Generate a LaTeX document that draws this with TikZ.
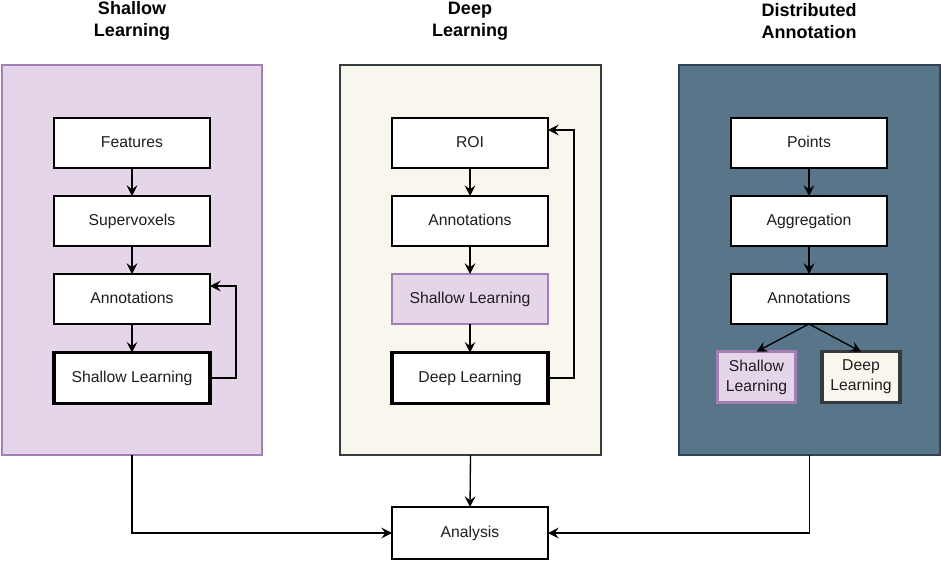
\documentclass[tikz,border=0pt]{standalone}
\usepackage{fontspec}
\setmainfont{Liberation Sans}
\usetikzlibrary{arrows.meta}
\definecolor{purfill}{HTML}{E5D5E8}
\definecolor{purline}{HTML}{A47FB5}
\definecolor{cremefill}{HTML}{F9F6EE}
\definecolor{greyline}{HTML}{36393D}
\definecolor{bluefill}{HTML}{58758A}
\definecolor{blueline}{HTML}{2F4354}
\definecolor{txt}{HTML}{1E1E1E}
\tikzset{
  panel/.style={draw, line width=1pt, minimum width=#1*0.75pt, minimum height=292.5pt, inner sep=0pt, outer sep=0pt},
  box/.style={draw=black, fill=white, line width=1pt, minimum width=117pt, minimum height=37.5pt, inner sep=0pt, outer sep=0pt, text=txt, text height=8.6pt, text depth=2.4pt, font=\fontsize{11.8pt}{14pt}\selectfont},
  thickbox/.style={box, line width=2.4pt, minimum height=38pt},
  smallbox/.style={draw, line width=2pt, minimum width=58.5pt, minimum height=38pt, inner sep=0pt, outer sep=0pt, align=center, text=txt, font=\fontsize{11.8pt}{15pt}\selectfont},
  title/.style={align=center, font=\bfseries\fontsize{13.5pt}{16.5pt}\selectfont, text=black},
  arr/.style={draw=black, line width=1pt, -{Stealth[length=8pt,width=8pt,inset=3pt]}},
}
\begin{document}
\begin{tikzpicture}[x=0.75pt,y=-0.75pt]
\useasboundingbox (0,0) rectangle (941,563);
\fill[white] (0,0) rectangle (941,563);
% titles
\node[title] (T1) at (132,21) {Shallow\\Learning};
\node[title] (T2) at (470,21) {Deep\\Learning};
\node[title] (T3) at (809,21) {Distributed\\Annotation};
% panels
\node[panel=260, fill=purfill, draw=purline] (P1) at (132,260) {};
\node[panel=261, fill=cremefill, draw=greyline] (P2) at (470.5,260) {};
\node[panel=261, fill=bluefill, draw=blueline] (P3) at (809.5,260) {};
% left column
\node[box] (F1) at (132,143) {Features};
\node[box] (S1) at (132,221) {Supervoxels};
\node[box] (A1) at (132,299) {Annotations};
\node[thickbox] (L1) at (132,378) {Shallow Learning};
% center column
\node[box] (R2) at (470,143) {ROI};
\node[box] (A2) at (470,221) {Annotations};
\node[box, fill=purfill, draw=purline, line width=1.6pt] (L2) at (470,299) {Shallow Learning};
\node[thickbox] (D2) at (470,378) {Deep Learning};
% right column
\node[box] (P3a) at (809,143) {Points};
\node[box] (G3) at (809,221) {Aggregation};
\node[box] (A3) at (809,299) {Annotations};
\node[smallbox, fill=purfill, draw=purline] (L3) at (756.5,377) {Shallow\\Learning};
\node[smallbox, fill=cremefill, draw=greyline, line width=2.4pt] (D3) at (861,377) {Deep\\Learning};
% analysis
\node[box, minimum height=39pt] (AN) at (470,533) {Analysis};
% arrows left
\draw[arr] (F1) -- (S1);
\draw[arr] (S1) -- (A1);
\draw[arr] (A1) -- (L1);
\draw[arr] (L1.east) -- ++(26,0) |- ([yshift=9.75pt]A1.east);
% arrows center
\draw[arr] (R2) -- (A2);
\draw[arr] (A2) -- (L2);
\draw[arr] (L2) -- (D2);
\draw[arr] (D2.east) -- ++(26,0) |- ([yshift=9.75pt]R2.east);
% arrows right
\draw[arr] (P3a) -- (G3);
\draw[arr] (G3) -- (A3);
\draw[arr] (A3.south) -- (L3.north);
\draw[arr] (A3.south) -- (D3.north);
% to analysis
\draw[arr] (P1.south) |- (AN.west);
\draw[arr] (P2.south) -- (AN.north);
\draw[arr] (P3.south) |- (AN.east);
\end{tikzpicture}
\end{document}
